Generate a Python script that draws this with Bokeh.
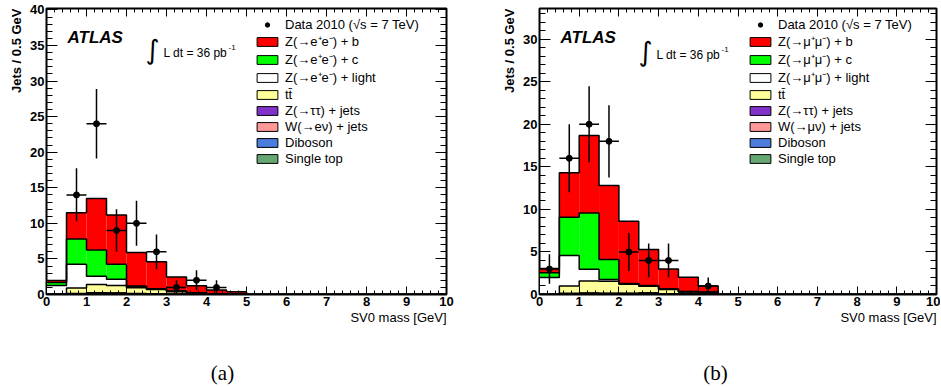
import numpy as np
from bokeh.plotting import figure
from bokeh.models import (Range1d, LinearAxis, SingleIntervalTicker, Label, Legend, LegendItem,
                          Title, CustomLabelingPolicy)
from bokeh.layouts import row, column
from bokeh.embed import file_html
from bokeh.resources import INLINE

# ---------------- data ----------------
bin_edges = [0.0, 0.5, 1.0, 1.5, 2.0, 2.5, 3.0, 3.5, 4.0, 4.5, 5.0]

# panel (a): Z -> ee
data_x_a = [0.75, 1.25, 1.75, 2.25, 2.75, 3.25, 3.75, 4.25]
data_n_a = [14, 24, 9, 10, 6, 1, 2, 1]
zb_a  = [0.30, 3.70, 7.25, 6.90, 4.70, 3.80, 1.95, 1.00, 0.55, 0.35]
zc_a  = [0.40, 3.55, 3.70, 2.10, 0.10, 0.05, 0.05, 0.00, 0.00, 0.00]
zl_a  = [1.20, 3.35, 1.15, 0.90, 0.15, 0.05, 0.05, 0.00, 0.00, 0.00]
tt_a  = [0.02, 0.75, 1.15, 1.05, 0.80, 0.60, 0.35, 0.20, 0.08, 0.03]
ztt_a = [0.05, 0.05, 0.08, 0.05, 0.03, 0.02, 0.00, 0.00, 0.00, 0.00]
w_a   = [0.00, 0.00, 0.02, 0.02, 0.00, 0.00, 0.00, 0.00, 0.00, 0.00]
vv_a  = [0.01, 0.05, 0.08, 0.06, 0.05, 0.03, 0.02, 0.01, 0.00, 0.00]
st_a  = [0.00, 0.05, 0.08, 0.08, 0.07, 0.05, 0.03, 0.02, 0.01, 0.00]

# panel (b): Z -> mumu
data_x_b = [0.25, 0.75, 1.25, 1.75, 2.25, 2.75, 3.25, 4.25]
data_n_b = [3, 16, 20, 18, 5, 4, 4, 1]
zb_b  = [0.50, 5.20, 9.10, 8.70, 7.30, 4.25, 2.35, 1.70, 0.75, 0.00]
zc_b  = [0.55, 4.50, 6.60, 2.35, 0.05, 0.03, 0.02, 0.02, 0.00, 0.00]
zl_b  = [1.95, 3.60, 1.40, 0.20, 0.05, 0.04, 0.03, 0.02, 0.02, 0.00]
tt_b  = [0.03, 0.85, 1.40, 1.40, 1.05, 0.80, 0.50, 0.25, 0.08, 0.00]
ztt_b = [0.02, 0.04, 0.05, 0.04, 0.03, 0.02, 0.02, 0.00, 0.05, 0.00]
w_b   = [0.00, 0.00, 0.02, 0.02, 0.02, 0.02, 0.00, 0.00, 0.05, 0.00]
vv_b  = [0.01, 0.05, 0.06, 0.05, 0.05, 0.04, 0.02, 0.01, 0.01, 0.00]
st_b  = [0.00, 0.05, 0.05, 0.05, 0.05, 0.10, 0.06, 0.04, 0.04, 0.00]

data_label = "Data 2010 (\u221As = 7 TeV)"
labels_a = ["Z(\u2192e\u207ae\u207b) + b", "Z(\u2192e\u207ae\u207b) + c", "Z(\u2192e\u207ae\u207b) + light",
            "tt\u0304", "Z(\u2192\u03c4\u03c4) + jets", "W(\u2192e\u03bd) + jets", "Diboson", "Single top"]
labels_b = ["Z(\u2192\u03bc\u207a\u03bc\u207b) + b", "Z(\u2192\u03bc\u207a\u03bc\u207b) + c", "Z(\u2192\u03bc\u207a\u03bc\u207b) + light",
            "tt\u0304", "Z(\u2192\u03c4\u03c4) + jets", "W(\u2192\u03bc\u03bd) + jets", "Diboson", "Single top"]
captions = ["(a)", "(b)"]
colors = ["#ff0000", "#00ff00", "#ffffff", "#ffff99", "#8232c8", "#ff9999", "#4d7ddc", "#66a673"]

FONT = "Liberation Sans"
H = 350
TOP = 8
BOTTOM = 56


def make_panel(comps, labels, dx, dn, ymax, width, bl, br, lumi_dy):
    p = figure(width=width, height=H, output_backend="svg", toolbar_location=None,
               x_range=Range1d(0, 10), y_range=Range1d(0, ymax),
               min_border_left=bl, min_border_right=br, min_border_top=TOP, min_border_bottom=BOTTOM,
               x_axis_location=None, y_axis_location=None)
    p.xgrid.grid_line_color = None
    p.ygrid.grid_line_color = None
    p.outline_line_color = "black"
    p.outline_line_width = 2
    p.background_fill_color = "white"
    p.border_fill_color = "white"

    xt = SingleIntervalTicker(interval=1, num_minor_ticks=5)
    yt = SingleIntervalTicker(interval=5, num_minor_ticks=5)
    for loc, tick, tin, min_in, show in [("below", xt, 8, 4, True), ("above", xt, 8, 4, False),
                                         ("left", yt, 11, 6, True), ("right", yt, 11, 6, False)]:
        ax = LinearAxis(ticker=tick, major_tick_in=tin, major_tick_out=0,
                        minor_tick_in=min_in, minor_tick_out=0,
                        axis_line_color="black", axis_line_width=1,
                        major_tick_line_color="black", minor_tick_line_color="black",
                        major_label_text_font=FONT, major_label_text_font_style="bold",
                        major_label_text_font_size="13px" if show else "1px",
                        major_label_text_color="black",
                        major_label_standoff=2 if show else 0)
        if not show:
            ax.major_label_policy = CustomLabelingPolicy(code="return new Set()")
        p.add_layout(ax, loc)

    p.add_layout(Title(text="SV0 mass [GeV]", align="right", text_font=FONT, text_font_size="13px",
                       text_font_style="normal", standoff=0, text_line_height=1.0,
                       vertical_align="middle", text_color="black"), "below")
    p.add_layout(Title(text="Jets / 0.5 GeV", align="right", text_font=FONT, text_font_size="13px",
                       text_font_style="bold", standoff=5, text_line_height=1.0,
                       vertical_align="middle", text_color="black"), "left")

    left = np.array(bin_edges[:-1])
    right = np.array(bin_edges[1:])
    arrs = [np.array(c, dtype=float) for c in comps]
    order = list(range(len(arrs)))[::-1]
    cum = np.zeros(len(left))
    tops = {}
    bottoms = {}
    for i in order:
        bottoms[i] = cum.copy()
        cum = cum + arrs[i]
        tops[i] = cum.copy()
    for i in range(len(arrs)):
        p.quad(left=left, right=right, bottom=bottoms[i], top=tops[i],
               fill_color=colors[i], line_color=None)
    stepx = list(bin_edges) + [10.0]
    for i in range(len(arrs)):
        ys = list(tops[i]) + [0.0, 0.0]
        p.step(x=stepx, y=ys, mode="after", line_color="black", line_width=1.5)

    # data points
    dxa = np.array(dx, dtype=float)
    dna = np.array(dn, dtype=float)
    err = np.sqrt(dna)
    p.segment(x0=dxa, x1=dxa, y0=dna - err, y1=dna + err, line_color="black", line_width=1.5)
    p.segment(x0=dxa - 0.25, x1=dxa + 0.25, y0=dna, y1=dna, line_color="black", line_width=1.5)
    r_data = p.scatter(dxa, dna, size=6, marker="circle", fill_color="black", line_color="black")

    # legend (zero-size proxy boxes carry the swatch style)
    items = [LegendItem(label=data_label, renderers=[r_data])]
    x0 = bin_edges[0]
    for i, lab in enumerate(labels):
        proxy = p.quad(left=[x0], right=[x0], top=[0.0], bottom=[0.0], fill_color=colors[i],
                       line_color="black", line_width=1)
        items.append(LegendItem(label=lab, renderers=[proxy]))
    fh = H - TOP - BOTTOM
    leg = Legend(items=items, location=(208, fh - 158), orientation="vertical",
                 glyph_width=26, glyph_height=11, label_height=16, label_width=10,
                 spacing=0, padding=0, margin=0, label_standoff=5,
                 background_fill_alpha=0, border_line_alpha=0,
                 label_text_font=FONT, label_text_font_size="13px",
                 label_text_color="black", label_text_baseline="middle")
    p.add_layout(leg)

    # texts inside the frame
    p.add_layout(Label(x=0, y=ymax, x_offset=21, y_offset=-29, text="ATLAS",
                       text_font=FONT, text_font_style="bold italic", text_font_size="17px",
                       text_baseline="middle", text_align="left", text_color="black"))
    p.add_layout(Label(x=0, y=ymax, x_offset=106, y_offset=-lumi_dy + 3, text="\u222B",
                       text_font="DejaVu Sans", text_font_size="27px",
                       text_baseline="middle", text_align="center", text_color="black"))
    p.add_layout(Label(x=0, y=ymax, x_offset=117, y_offset=-lumi_dy, text="L dt = 36 pb",
                       text_font=FONT, text_font_size="12px",
                       text_baseline="middle", text_align="left", text_color="black"))
    p.add_layout(Label(x=0, y=ymax, x_offset=182, y_offset=-lumi_dy + 5, text="-1",
                       text_font=FONT, text_font_size="8px",
                       text_baseline="middle", text_align="left", text_color="black"))
    return p


comps_a = [zb_a, zc_a, zl_a, tt_a, ztt_a, w_a, vv_a, st_a]
comps_b = [zb_b, zc_b, zl_b, tt_b, ztt_b, w_b, vv_b, st_b]

pa = make_panel(comps_a, labels_a, data_x_a, data_n_a, 40.2, 498, 46, 52, 44)
pb = make_panel(comps_b, labels_b, data_x_b, data_n_b, 33.6, 442, 41, 3, 46)

# caption strip below the two panels
cap = figure(width=940, height=35, output_backend="svg", toolbar_location=None,
             x_range=Range1d(0, 940), y_range=Range1d(0, 35), min_border=0,
             x_axis_location=None, y_axis_location=None)
cap.xgrid.grid_line_color = None
cap.ygrid.grid_line_color = None
cap.outline_line_color = None
for cx, txt in zip([222, 715], captions):
    cap.add_layout(Label(x=cx, y=13, text=txt, text_font="Liberation Serif", text_font_size="21px",
                         text_baseline="middle", text_align="center", text_color="black"))

layout = column(row(pa, pb), cap)
open("out.html", "w").write(file_html(layout, INLINE))
